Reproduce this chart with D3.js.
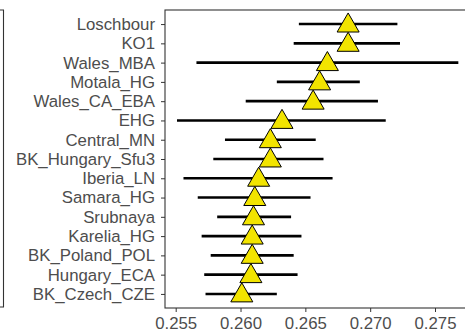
<!DOCTYPE html>
<html>
<head>
<meta charset="utf-8">
<script src="https://cdn.jsdelivr.net/npm/d3@7"></script>
<style>
  body { margin: 0; background: #fff; }
  svg { display: block; font-family: "Liberation Sans", Arial, sans-serif; }
</style>
</head>
<body>
<div id="chart"></div>
<script>
const groups = ["Loschbour", "KO1", "Wales_MBA", "Motala_HG", "Wales_CA_EBA", "EHG",
    "Central_MN", "BK_Hungary_Sfu3", "Iberia_LN", "Samara_HG", "Srubnaya",
    "Karelia_HG", "BK_Poland_POL", "Hungary_ECA", "BK_Czech_CZE"];
const est  = [0.2683, 0.2683, 0.2667, 0.2661, 0.2656, 0.2632, 0.2623, 0.2623, 0.2614,
    0.2611, 0.2610, 0.2609, 0.2609, 0.2608, 0.2601];
const low  = [0.2645, 0.2641, 0.2566, 0.2628, 0.2604, 0.2551, 0.2588, 0.2579, 0.2556,
    0.2567, 0.2582, 0.2570, 0.2577, 0.2572, 0.2573];
const high = [0.2721, 0.2723, 0.2768, 0.2692, 0.2706, 0.2712, 0.2658, 0.2664, 0.2671,
    0.2654, 0.2639, 0.2647, 0.2641, 0.2644, 0.2628];
const xTicks = [0.255, 0.260, 0.265, 0.270, 0.275];

const W = 465, H = 334;
const panel = {left: 165, top: 10, bottom: 308, right: 470};

const rows = groups.map((g, i) => ({name: g, est: est[i], lo: low[i], hi: high[i]}));

const svg = d3.select("#chart").append("svg")
    .attr("width", W).attr("height", H);

// edge of the neighbouring panel on the far left
svg.append("path")
    .attr("d", `M-2,${panel.top}H3.5V${panel.bottom - 1}H-2`)
    .attr("fill", "none").attr("stroke", "#333").attr("stroke-width", 1.1);

const x = d3.scaleLinear().domain([0.255, 0.275]).range([175.7, 435]);
const y = d3.scalePoint().domain(groups).range([panel.top, panel.bottom]).padding(0.73);

svg.append("rect")
    .attr("x", panel.left).attr("y", panel.top)
    .attr("width", panel.right - panel.left).attr("height", panel.bottom - panel.top)
    .attr("fill", "none").attr("stroke", "#333").attr("stroke-width", 1.1);

svg.append("g")
    .selectAll("line")
    .data(rows)
    .join("line")
        .attr("x1", d => x(d.lo))
        .attr("x2", d => x(d.hi))
        .attr("y1", d => y(d.name))
        .attr("y2", d => y(d.name))
        .attr("stroke", "#000")
        .attr("stroke-width", 2.6);

const tri = d3.symbol().type(d3.symbolTriangle).size(210);
svg.append("g")
    .selectAll("path")
    .data(rows)
    .join("path")
        .attr("d", tri)
        .attr("transform", d => `translate(${x(d.est)},${y(d.name) + 1.6})`)
        .attr("fill", "#f2e400")
        .attr("stroke", "#000")
        .attr("stroke-width", 1);

const yAxis = svg.append("g")
    .attr("transform", `translate(${panel.left},0)`)
    .call(d3.axisLeft(y).tickSize(4).tickPadding(6));
yAxis.select(".domain").remove();
yAxis.selectAll("line").attr("stroke", "#333");
yAxis.selectAll("text").attr("fill", "#4d4d4d").attr("font-size", 16.8)
    .attr("font-family", "Liberation Sans, Arial, sans-serif");

const xAxis = svg.append("g")
    .attr("transform", `translate(0,${panel.bottom})`)
    .call(d3.axisBottom(x).tickValues(xTicks).tickFormat(d3.format(".3f")).tickSize(4).tickPadding(5));
xAxis.select(".domain").remove();
xAxis.selectAll("line").attr("stroke", "#333");
xAxis.selectAll("text").attr("fill", "#4d4d4d").attr("font-size", 16.8)
    .attr("font-family", "Liberation Sans, Arial, sans-serif");
</script>
</body>
</html>
